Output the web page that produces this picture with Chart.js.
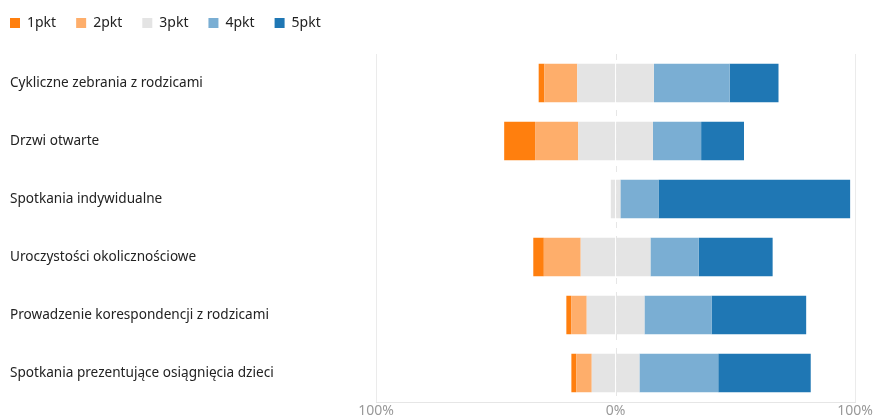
<!DOCTYPE html>
<html>
<head>
<meta charset="utf-8">
<script src="https://cdn.jsdelivr.net/npm/chart.js@4"></script>
<style>
  html, body { margin: 0; padding: 0; background: #fff; }
  #wrap { width: 874px; height: 415px; }
</style>
</head>
<body>
<div id="wrap"><canvas id="likertChart"></canvas></div>
<script>
// categories and answer shares (%) per rating
const categories = [
    'Cykliczne zebrania z rodzicami',
    'Drzwi otwarte',
    'Spotkania indywidualne',
    'Uroczystości okolicznościowe',
    'Prowadzenie korespondencji z rodzicami',
    'Spotkania prezentujące osiągnięcia dzieci'
];
const pkt1 = [2.4, 12.9, 0, 4.4, 2.0, 2.0];
const pkt2 = [13.7, 18.0, 0, 15.4, 6.5, 6.5];
const pkt3 = [32.0, 31.2, 4.0, 29.1, 24.1, 19.9];
const pkt4 = [31.6, 20.1, 15.9, 20.2, 28.0, 32.9];
const pkt5 = [20.4, 17.9, 80.0, 30.8, 39.5, 38.6];
const axisTicks = [-100, 0, 100];

const colors = {
    p1: '#ff7f0e',
    p2: '#feae6b',
    p3: '#e4e4e4',
    p4: '#7aaed3',
    p5: '#1f77b4'
};

const FONT = '"Segoe UI", "Noto Sans", "Open Sans", sans-serif';

// negative side stacks outward from zero in dataset order
const datasets = [
    { label: '3pkt', data: pkt3.map(v => -v / 2), backgroundColor: colors.p3 },
    { label: '2pkt', data: pkt2.map(v => -v), backgroundColor: colors.p2 },
    { label: '1pkt', data: pkt1.map(v => -v), backgroundColor: colors.p1 },
    { label: '3pkt-pos', data: pkt3.map(v => v / 2), backgroundColor: colors.p3 },
    { label: '4pkt', data: pkt4, backgroundColor: colors.p4 },
    { label: '5pkt', data: pkt5, backgroundColor: colors.p5 }
];

// dashed line at 0%
const zeroLine = {
    id: 'zeroLine',
    beforeDatasetsDraw(chart) {
        const x = chart.scales.x.getPixelForValue(0);
        const area = chart.chartArea;
        const ctx = chart.ctx;
        ctx.save();
        ctx.strokeStyle = '#e6e6e6';
        ctx.lineWidth = 1;
        ctx.setLineDash([6, 8]);
        ctx.beginPath();
        ctx.moveTo(Math.round(x) + 0.5, area.top);
        ctx.lineTo(Math.round(x) + 0.5, area.bottom);
        ctx.stroke();
        ctx.restore();
    }
};

// extra room under the legend, legend flush with the labels
const legendSpace = {
    id: 'legendSpace',
    beforeInit(chart) {
        const fit = chart.legend.fit;
        chart.legend.fit = function() {
            fit.bind(chart.legend)();
            this.height += 14;
        };
    },
    afterLayout(chart) {
        chart.legend.left -= 20;
        chart.legend.right -= 20;
    }
};

new Chart(document.getElementById('likertChart'), {
    type: 'bar',
    data: {
        labels: categories,
        datasets: datasets.map(d => Object.assign({
            borderWidth: 0,
            categoryPercentage: 1,
            barPercentage: 0.66
        }, d))
    },
    options: {
        indexAxis: 'y',
        responsive: true,
        maintainAspectRatio: false,
        animation: false,
        layout: { padding: { left: 10, right: 0, top: -4, bottom: 0 } },
        plugins: {
            tooltip: { enabled: false },
            legend: {
                position: 'top',
                align: 'start',
                labels: {
                    boxWidth: 10,
                    boxHeight: 10,
                    padding: 20,
                    color: '#222',
                    font: { family: FONT, size: 14 },
                    filter: item => item.text !== '3pkt-pos',
                    sort: (a, b) => a.text.localeCompare(b.text)
                }
            }
        },
        scales: {
            x: {
                stacked: true,
                min: -100,
                max: 100,
                afterBuildTicks: scale => { scale.ticks = axisTicks.map(v => ({ value: v })); },
                afterFit: scale => { scale.height = 13; },
                grid: {
                    drawTicks: false,
                    color: ctx => (ctx.tick && ctx.tick.value === 0) ? 'rgba(0,0,0,0)' : '#ebebeb'
                },
                border: { display: true, color: '#e6e6e6' },
                ticks: {
                    padding: 1,
                    color: '#999',
                    font: { family: FONT, size: 14 },
                    callback: v => Math.abs(v) + '%'
                }
            },
            y: {
                stacked: true,
                grid: { display: false },
                border: { display: false },
                afterFit: scale => { scale.width = 366; },
                ticks: {
                    crossAlign: 'far',
                    color: '#222',
                    font: { family: FONT, size: 13.6 }
                }
            }
        }
    },
    plugins: [zeroLine, legendSpace]
});
</script>
</body>
</html>
